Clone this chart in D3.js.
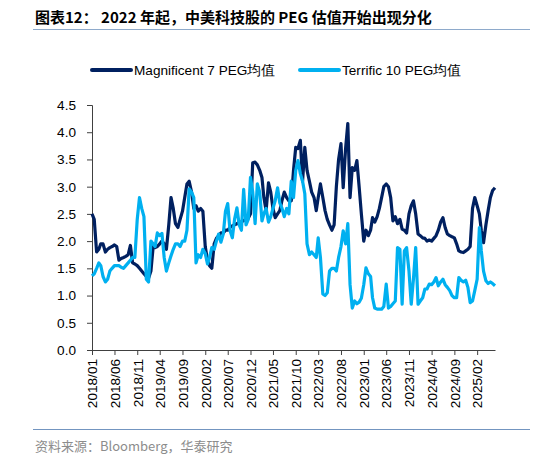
<!DOCTYPE html>
<html lang="zh">
<head>
    <meta charset="UTF-8">
    <title>Magnificent 7 vs Terrific 10 PEG</title>
    <script src="https://d3js.org/d3.v7.min.js"></script>
    <style>
        body { margin: 0; background: #fff; }
        #chart { display: block; }
        .axis text { font-family: "Liberation Sans", Arial, sans-serif; font-size: 13.6px; fill: #000; }
        .axis path, .axis line { stroke: #404040; }
    </style>
</head>
<body>
    <svg id="chart"></svg>
    <script>
        const width = 534;
        const height = 461;

        // semi-monthly readings, first point 2018/01
        const startMonth = '2018/01';
        const m7Values = [
            2.5, 2.4, 1.8, 1.85, 1.95, 1.95, 1.8, 1.85, 1.88, 1.9,
            1.93, 1.9, 1.65, 1.68, 1.7, 1.72, 1.75, 1.92, 1.6, 1.58,
            1.55, 1.5, 1.45, 1.4, 1.35, 1.32, 1.45, 1.9, 1.88, 1.9,
            1.95, 2.0, 1.95, 1.85, 2.3, 2.8, 2.6, 2.32, 2.25, 2.4,
            2.55, 2.8, 3.05, 3.1, 2.9, 2.6, 2.65, 2.55, 2.6, 2.55,
            1.9, 1.65, 1.55, 1.5, 1.95, 2.05, 2.1, 2.15, 2.15, 2.2,
            2.2, 2.25, 2.28, 2.3, 2.32, 2.35, 2.35, 2.38, 2.4, 2.42,
            2.5, 3.44, 3.45, 3.4, 3.3, 3.17, 2.8, 2.56, 3.07, 2.9,
            2.6, 2.43, 2.5, 2.56, 2.75, 2.9, 2.8, 2.74, 2.74, 3.3,
            3.72, 3.7, 3.85, 3.1, 3.72, 3.3, 3.1, 2.9, 2.8, 2.56,
            2.8, 3.05, 2.8, 2.56, 2.4, 2.3, 2.2, 2.3, 3.0, 3.5,
            3.79, 2.98, 3.7, 4.16, 2.8, 3.35, 3.3, 3.48, 3.0, 2.5,
            2.0, 2.2, 2.1, 2.2, 2.43, 2.35, 2.45, 2.6, 2.8, 3.0,
            3.05, 3.0, 2.8, 2.37, 2.45, 2.32, 2.4, 2.22, 2.2, 2.15,
            2.5, 2.65, 2.74, 2.5, 2.13, 2.1, 2.06, 2.05, 2.0, 2.02,
            2.0, 2.05, 2.1, 2.2, 2.35, 2.43, 2.25, 2.13, 2.1, 2.08,
            2.06, 1.95, 1.82, 1.8, 1.79, 1.82, 1.85, 1.9, 2.6, 2.8,
            2.65, 2.5, 2.2, 1.97, 2.3, 2.56, 2.8, 2.93, 2.98
        ];
        const t10Values = [
            1.36, 1.4, 1.5, 1.6, 1.55, 1.35, 1.25, 1.3, 1.45, 1.5,
            1.55, 1.55, 1.55, 1.52, 1.5, 1.55, 1.6, 1.65, 1.7, 1.7,
            2.4, 2.8, 2.6, 2.45, 1.3, 1.25, 2.0, 1.95, 1.9, 2.15,
            2.1, 2.14, 1.7, 1.45, 1.6, 1.73, 1.85, 1.95, 1.95, 1.9,
            2.0, 2.0, 2.2, 2.96, 2.9, 2.8, 1.6, 1.75, 1.7, 1.85,
            1.77, 1.58, 1.7, 1.88, 1.85, 2.0, 2.13, 1.98, 2.13, 2.55,
            2.69, 2.2, 2.06, 2.4, 2.61, 2.3, 2.2, 2.95, 2.3, 2.4,
            3.17, 2.9, 2.32, 3.05, 2.9, 2.37, 2.5, 2.6, 2.35, 2.45,
            2.6, 2.74, 2.98, 2.7, 2.6, 2.45, 2.6, 2.5, 3.1, 2.8,
            3.3, 3.48, 3.24, 3.1, 2.87, 1.95, 1.75, 1.8, 1.75, 1.7,
            2.06, 1.7, 1.03, 1.0, 1.05, 1.45, 1.5, 1.5, 1.45, 1.7,
            1.9, 2.19, 1.95, 2.32, 1.2, 0.77, 0.9, 0.85, 0.88, 0.95,
            1.2, 1.51, 1.4, 1.35, 0.96, 0.77, 0.75, 0.75, 0.75, 0.8,
            1.21, 0.77, 0.8, 0.85, 0.9, 1.88, 1.85, 0.84, 1.82, 1.88,
            1.45, 0.84, 1.3, 1.88, 0.84, 0.9, 0.96, 1.12, 1.12, 1.21,
            1.2, 1.25, 1.33, 1.18, 1.25, 1.3, 1.2, 1.15, 1.09, 1.0,
            0.96, 0.96, 1.33, 1.28, 1.25, 1.28, 1.15, 0.87, 0.9, 1.09,
            1.3, 2.25, 1.82, 1.45, 1.27, 1.22, 1.25, 1.22, 1.18
        ];
        const xTickLabels = [
            '2018/01', '2018/06', '2018/11', '2019/04', '2019/09', '2020/02',
            '2020/07', '2020/12', '2021/05', '2021/10', '2022/03', '2022/08',
            '2023/01', '2023/06', '2023/11', '2024/04', '2024/09', '2025/02'
        ];
        const yTicks = [0, 0.5, 1, 1.5, 2, 2.5, 3, 3.5, 4, 4.5];
        const seriesNames = ['Magnificent 7 PEG均值', 'Terrific 10 PEG均值'];
        const seriesColors = ['#002060', '#00B0F0'];

        const parseMonth = d3.utcParse('%Y/%m');
        const start = parseMonth(startMonth);
        const dates = m7Values.map((_, i) => {
            const d = d3.utcMonth.offset(start, Math.floor(i / 2));
            return i % 2 ? d3.utcDay.offset(d, 15) : d;
        });

        const svg = d3.select('#chart')
            .attr('width', width)
            .attr('height', height);

        // title + rules
        svg.append('text')
            .attr('x', 35).attr('y', 23)
            .style('font-family', '"Noto Sans CJK SC", sans-serif')
            .style('font-size', '15px')
            .style('font-weight', 'bold')
            .text('图表12：  2022 年起，中美科技股的 PEG 估值开始出现分化');
        svg.append('line')
            .attr('x1', 33).attr('x2', 530).attr('y1', 29.5).attr('y2', 29.5)
            .attr('stroke', '#8eaacb').attr('stroke-width', 1);
        svg.append('line')
            .attr('x1', 33).attr('x2', 530).attr('y1', 429.5).attr('y2', 429.5)
            .attr('stroke', '#7395c0').attr('stroke-width', 1);
        svg.append('text')
            .attr('x', 35).attr('y', 451)
            .style('font-family', '"Noto Sans CJK SC", sans-serif')
            .style('font-size', '13px')
            .style('fill', '#8c8c8c')
            .text('资料来源：Bloomberg，华泰研究');

        const x = d3.scaleUtc()
            .domain([start, dates[dates.length - 1]])
            .range([92, 495]);
        const y = d3.scaleLinear()
            .domain([0, 4.5])
            .range([350, 105]);

        svg.append('g')
            .attr('class', 'axis')
            .attr('transform', 'translate(92,0)')
            .call(d3.axisLeft(y).tickValues(yTicks).tickFormat(d3.format('.1f')).tickSize(5).tickPadding(11));

        const xAxis = svg.append('g')
            .attr('class', 'axis')
            .attr('transform', 'translate(0,350)')
            .call(d3.axisBottom(x)
                .tickValues(xTickLabels.map(parseMonth))
                .tickFormat(d3.utcFormat('%Y/%m'))
                .tickSize(5)
                .tickSizeOuter(0));
        xAxis.selectAll('text')
            .attr('transform', 'rotate(-90)')
            .attr('x', -9)
            .attr('y', 0)
            .attr('dy', '0.35em')
            .style('text-anchor', 'end');

        const line = d3.line()
            .x((d, i) => x(dates[i]))
            .y(d => y(d));

        [m7Values, t10Values].forEach((vals, k) => {
            svg.append('path')
                .datum(vals)
                .attr('d', line)
                .attr('fill', 'none')
                .attr('stroke', seriesColors[k])
                .attr('stroke-width', 3.2)
                .attr('stroke-linejoin', 'round');
        });

        // legend
        const legendX = [92, 300];
        seriesNames.forEach((name, k) => {
            const g = svg.append('g').attr('transform', `translate(${legendX[k]},70)`);
            g.append('line')
                .attr('x1', 0).attr('x2', 39)
                .attr('stroke', seriesColors[k]).attr('stroke-width', 4)
                .attr('stroke-linecap', 'round');
            g.append('text')
                .attr('x', 42).attr('dy', '0.35em')
                .style('font-family', '"Liberation Sans", Arial, sans-serif')
                .style('font-size', '13.6px')
                .text(name);
        });
    </script>
</body>
</html>
